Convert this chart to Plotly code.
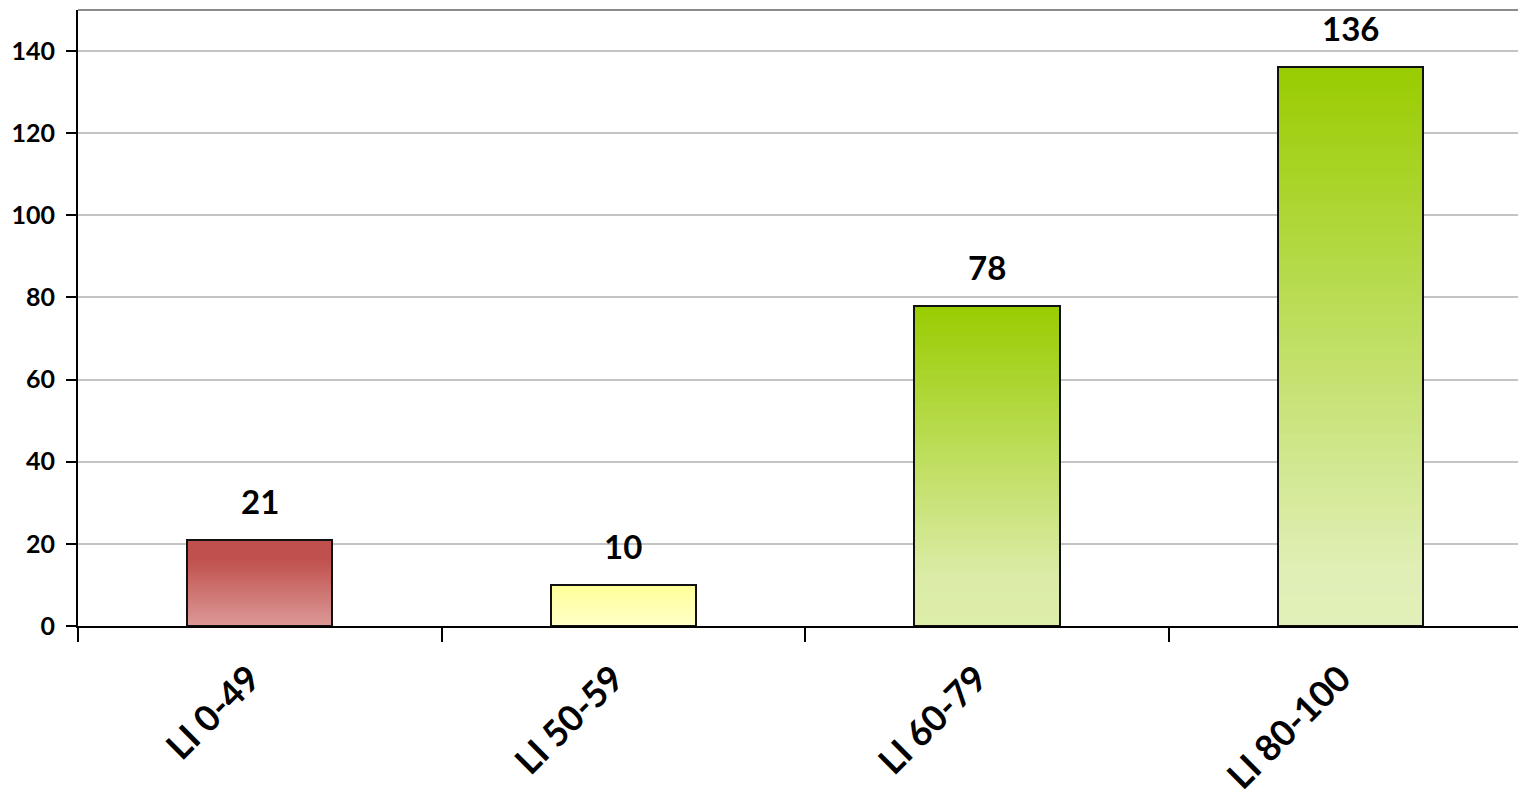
import plotly.graph_objects as go

categories = ["LI 0-49", "LI 50-59", "LI 60-79", "LI 80-100"]
values = [21, 10, 78, 136]
label_texts = ["21", "10", "78", "136"]
y_tickvals = [0, 20, 40, 60, 80, 100, 120, 140]

# gradient stops per bar (fraction from top, colour)
grad_stops = [
    [(0.0, (192, 80, 77)), (0.22, (192, 80, 77)), (1.0, (220, 154, 152))],
    [(0.0, (255, 255, 153)), (1.0, (255, 255, 200))],
    [(0.0, (153, 204, 0)), (0.85, (220, 236, 168)), (1.0, (221, 237, 170))],
    [(0.0, (153, 204, 0)), (0.9, (224, 239, 182)), (1.0, (225, 240, 184))],
]

FONT = "Lato"
N = 90
BAR_W = 0.4


def colour_at(stops, t):
    for (t0, c0), (t1, c1) in zip(stops[:-1], stops[1:]):
        if t0 <= t <= t1:
            f = 0 if t1 == t0 else (t - t0) / (t1 - t0)
            c = [round(a + (b - a) * f) for a, b in zip(c0, c1)]
            return "rgb({},{},{})".format(*c)
    c = stops[-1][1]
    return "rgb({},{},{})".format(*c)


fig = go.Figure()

# gradient slices (styling of each bar, stacked from its own value)
for i in range(N):
    bases = [v * i / N for v in values]
    heights = [v / N * 1.02 for v in values]
    cols = [colour_at(grad_stops[k], 1 - (i + 0.5) / N) for k in range(len(values))]
    fig.add_trace(go.Bar(
        x=categories, y=heights, base=bases, width=BAR_W,
        marker=dict(color=cols, line=dict(width=0)),
        hoverinfo="skip", showlegend=False,
    ))

# outline bar
fig.add_trace(go.Bar(
    x=categories, y=values, width=BAR_W,
    marker=dict(color="rgba(0,0,0,0)", line=dict(color="#111111", width=2)),
    showlegend=False,
))

for c, v, t in zip(categories, values, label_texts):
    fig.add_annotation(x=c, y=v, text="<b>" + t + "</b>", showarrow=False,
                       yanchor="middle", yshift=39,
                       font=dict(family=FONT, size=33, color="#000000"))

fig.add_shape(type="line", xref="paper", yref="paper", x0=0, x1=1, y0=1, y1=1,
              line=dict(color="#8c8c8c", width=2), layer="above")

fig.update_layout(
    width=1518, height=806,
    margin=dict(l=78, r=0, t=10, b=180),
    paper_bgcolor="white", plot_bgcolor="white",
    barmode="overlay", bargap=0,
    font=dict(family=FONT, color="#000000"),
    showlegend=False,
)

fig.update_xaxes(
    range=[-0.5, 3.461], type="category", automargin=False,
    showline=True, linecolor="#000000", linewidth=2,
    ticks="outside", tickson="boundaries", ticklen=14, tickwidth=1.5, tickcolor="#000000",
    tickangle=-45, tickfont=dict(family=FONT, size=36, color="#000000", weight="bold"),
    ticklabelstandoff=15, ticklabelshift=-10,
    showgrid=False, zeroline=False,
)
fig.update_yaxes(
    range=[0, 150], tickvals=y_tickvals, automargin=False,
    showline=True, linecolor="#000000", linewidth=2,
    ticks="outside", ticklen=10, tickwidth=1.5, tickcolor="#000000",
    tickfont=dict(family=FONT, size=25, color="#000000", weight="bold"),
    ticklabelstandoff=6,
    showgrid=True, gridcolor="#c4c4c4", gridwidth=1.5,
    zeroline=False,
)

fig.write_html("out.html")
